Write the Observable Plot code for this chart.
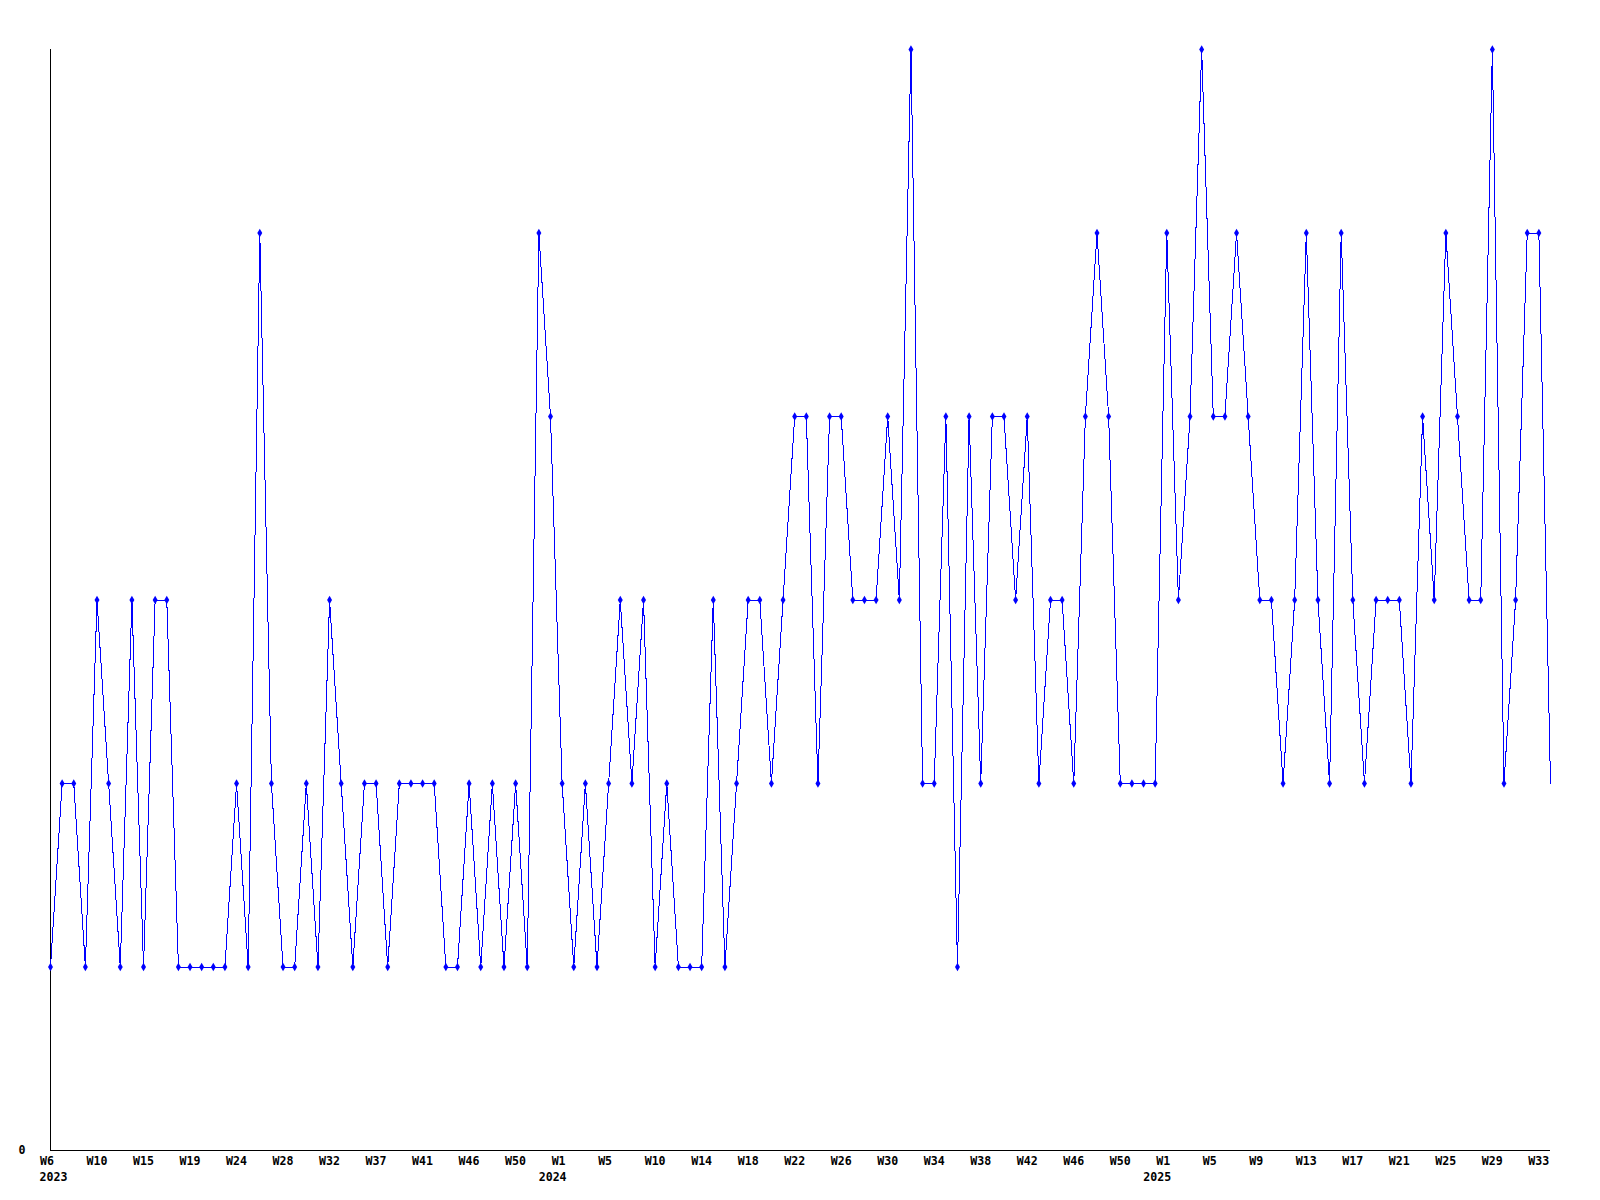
<!DOCTYPE html>
<html>
<head>
<meta charset="utf-8">
<script src="https://cdn.jsdelivr.net/npm/d3@7"></script>
<script src="https://cdn.jsdelivr.net/npm/@observablehq/plot@0.6"></script>
<style>
  html, body { margin: 0; padding: 0; background: #fff; }
  #chart svg { display: block; }
</style>
</head>
<body>
<div id="chart"></div>
<script>
// Weekly counts, one value per data point (130 points)
const values = [
  1,2,2,1,3,2,1,3,1,3,3,1,1,1,1,1,2,1,5,2,
  1,1,2,1,3,2,1,2,2,1,2,2,2,2,1,1,2,1,2,1,
  2,1,5,4,2,1,2,1,2,3,2,3,1,2,1,1,1,3,1,2,
  3,3,2,3,4,4,2,4,4,3,3,3,4,3,6,2,2,4,1,4,
  2,4,4,3,4,2,3,3,2,4,5,4,2,2,2,2,5,3,4,6,
  4,4,5,4,3,3,2,3,5,3,2,5,3,2,3,3,3,2,4,3,
  5,4,3,3,6,2,3,5,5,2
];
// Tick labels, every 4th point
const tickWeeks = [
  "W6","W10","W15","W19","W24","W28","W32","W37","W41","W46","W50",
  "W1","W5","W10","W14","W18","W22","W26","W30","W34","W38","W42","W46","W50",
  "W1","W5","W9","W13","W17","W21","W25","W29","W33"
];
const tickYears = [
  "2023","","","","","","","","","","",
  "2024","","","","","","","","","","","","",
  "2025","","","","","","","","",""
];
const tickStep = 4;

const data = values.map((v, i) => ({i, v}));
const tickPositions = tickWeeks.map((_, k) => k * tickStep);
const yearRows = tickYears
  .map((label, k) => ({label, x: k * tickStep, first: k === 0}))
  .filter(d => d.label);
const font = "'DejaVu Sans Mono', monospace";

const chart = Plot.plot({
  width: 1600,
  height: 1200,
  marginLeft: 50,
  marginRight: 50,
  marginTop: 49,
  marginBottom: 50,
  style: {fontFamily: font, fontSize: "11.6px", fontWeight: "bold", background: "#fff", color: "#000"},
  x: {domain: [0, values.length - 1]},
  y: {domain: [0, 6]},
  marks: [
    Plot.axisX({
      ticks: tickPositions,
      tickSize: 0,
      tickPadding: 6,
      textAnchor: "start",
      dx: -10.5,
      fill: "#000",
      tickFormat: (d) => tickWeeks[Math.round(d / tickStep)],
      label: null
    }),
    Plot.text(yearRows.filter(d => d.first), {
      x: "x", y: () => 0, text: "label", textAnchor: "start", dx: -11, dy: 26.5,
      lineAnchor: "middle", fill: "#000", clip: false
    }),
    Plot.text(yearRows.filter(d => !d.first), {
      x: "x", y: () => 0, text: "label", textAnchor: "middle", dx: -9.5, dy: 26.5,
      lineAnchor: "middle", fill: "#000", clip: false
    }),
    Plot.axisY({
      ticks: [0],
      tickSize: 0,
      tickPadding: 25,
      fill: "#000",
      tickFormat: (d) => String(d),
      label: null
    }),
    Plot.ruleX([0], {stroke: "#000", strokeWidth: 1}),
    Plot.ruleY([0], {stroke: "#000", strokeWidth: 1}),
    Plot.line(data, {x: "i", y: "v", stroke: "#0000ff", strokeWidth: 1, curve: "linear", shapeRendering: "crispEdges"}),
    Plot.dot(data.slice(0, -1), {x: "i", y: "v", symbol: "diamond", r: 2.6, fill: "#0000ff", stroke: "none"})
  ]
});
document.getElementById("chart").append(chart);
</script>
</body>
</html>
